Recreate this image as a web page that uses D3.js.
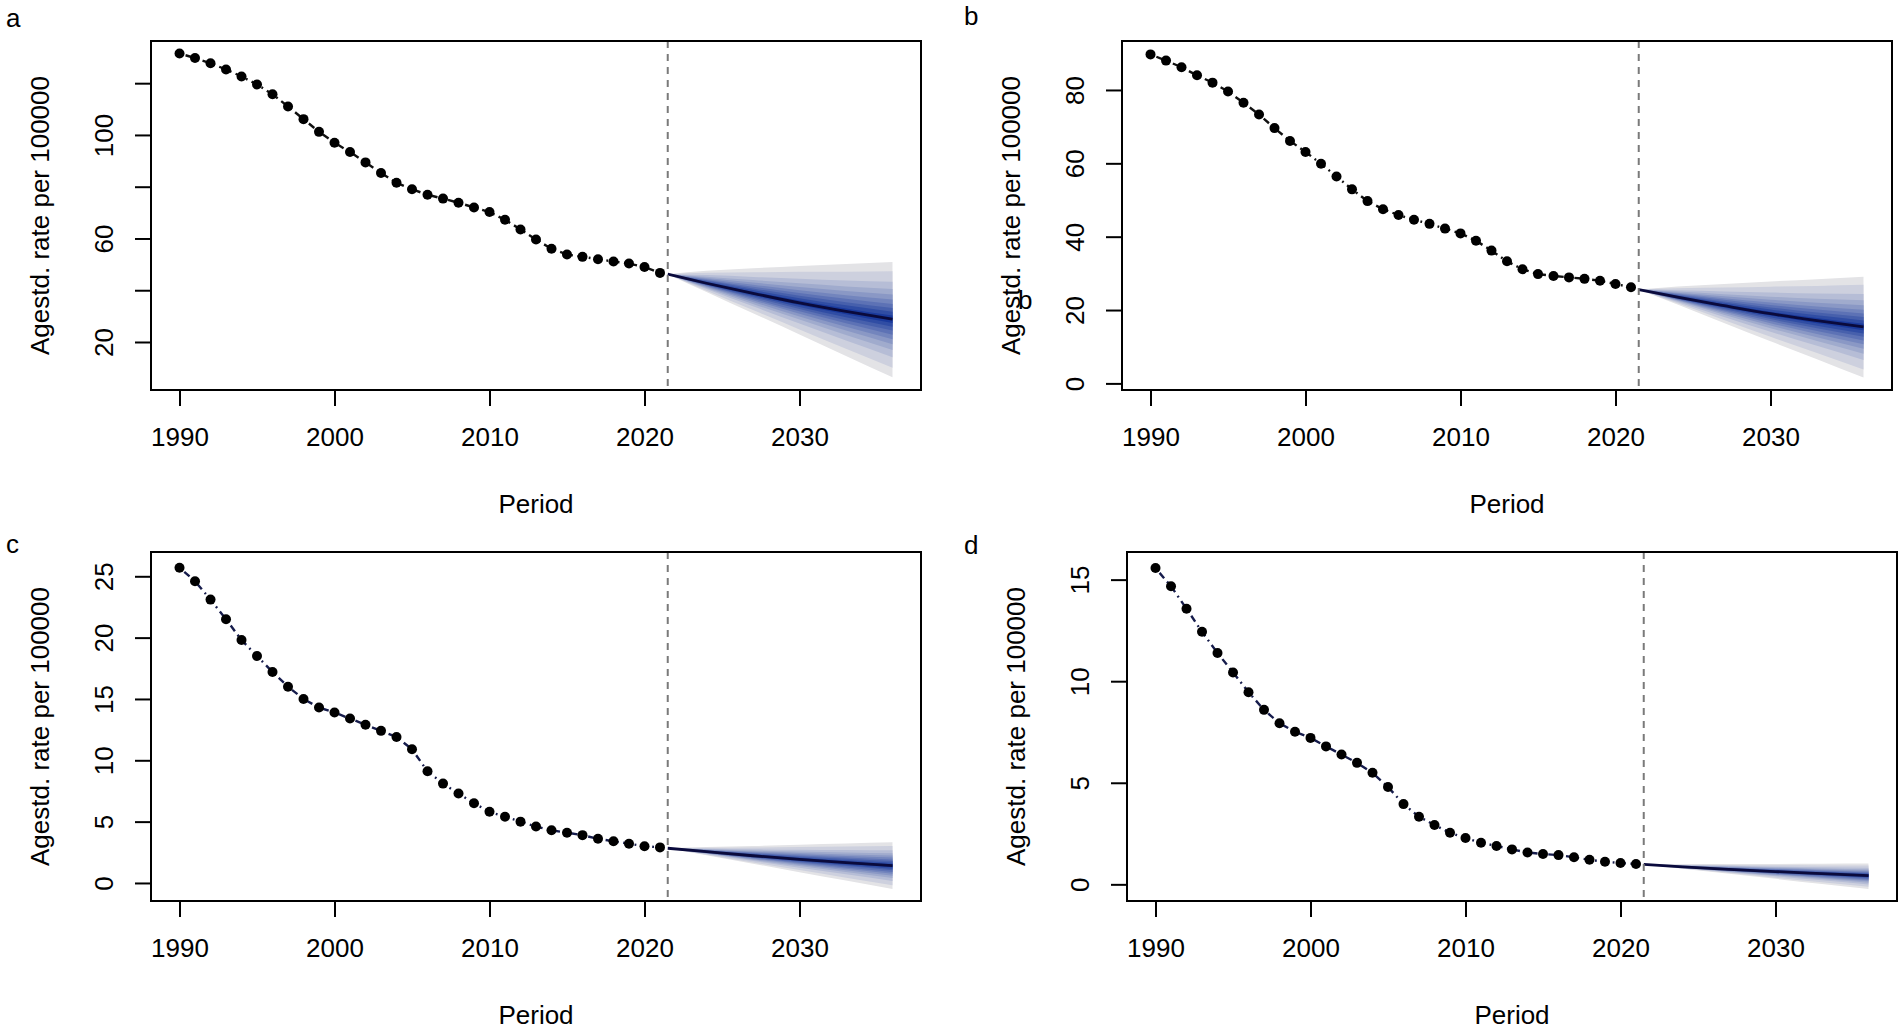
<!DOCTYPE html>
<html>
<head>
<meta charset="utf-8">
<script src="https://cdn.jsdelivr.net/npm/d3@7"></script>
<style>
  body { margin: 0; background: #fff; }
  text { font-family: "Liberation Sans", Arial, sans-serif; fill: #000; }
</style>
</head>
<body>
<svg id="chart" width="1902" height="1030"></svg>
<script>
// observed years and age-standardised rates per panel
const obsYears = [1990, 1991, 1992, 1993, 1994, 1995, 1996, 1997, 1998, 1999,
  2000, 2001, 2002, 2003, 2004, 2005, 2006, 2007, 2008, 2009,
  2010, 2011, 2012, 2013, 2014, 2015, 2016, 2017, 2018, 2019, 2020, 2021];

const rateA = [131.5, 129.7, 127.7, 125.3, 122.6, 119.5, 115.7, 111.0, 106.1, 101.2,
  97.0, 93.4, 89.4, 85.3, 81.5, 79.0, 76.9, 75.4, 73.8, 72.0,
  70.2, 67.2, 63.5, 59.6, 56.0, 53.8, 52.9, 52.0, 51.1, 50.3, 49.0, 46.7];
const rateB = [89.7, 88.0, 86.2, 84.0, 82.0, 79.6, 76.5, 73.3, 69.6, 66.1,
  63.1, 59.9, 56.4, 52.9, 49.7, 47.5, 45.9, 44.6, 43.5, 42.2,
  40.9, 38.9, 36.2, 33.3, 31.1, 29.8, 29.3, 28.9, 28.5, 28.0, 27.1, 26.2];
const rateC = [25.7, 24.6, 23.1, 21.5, 19.8, 18.5, 17.2, 16.0, 15.0, 14.3,
  13.9, 13.4, 12.9, 12.4, 11.9, 10.9, 9.1, 8.1, 7.3, 6.5,
  5.8, 5.4, 5.0, 4.6, 4.3, 4.1, 3.9, 3.6, 3.4, 3.2, 3.0, 2.9];
const rateD = [15.57, 14.67, 13.57, 12.43, 11.39, 10.43, 9.46, 8.59, 7.93, 7.51,
  7.21, 6.79, 6.39, 5.98, 5.49, 4.79, 3.95, 3.33, 2.92, 2.54,
  2.28, 2.05, 1.89, 1.72, 1.57, 1.49, 1.44, 1.33, 1.21, 1.11, 1.05, 1.00];

// projection: median and outer interval bounds
const projYears = [2021.5, 2024, 2027, 2030, 2033, 2036];
const medianA = [46.2, 42.7, 38.8, 35.1, 31.8, 28.8];
const upperA  = [46.2, 47.5, 48.5, 49.4, 50.1, 50.9];
const lowerA  = [46.2, 39.3, 31.1, 22.9, 14.6, 6.4];
const medianB = [25.6, 23.5, 21.2, 19.0, 17.1, 15.4];
const upperB  = [25.6, 26.4, 27.1, 27.8, 28.4, 29.1];
const lowerB  = [25.6, 21.5, 16.5, 11.5, 6.6, 1.6];
const medianC = [2.83, 2.55, 2.22, 1.93, 1.66, 1.41];
const upperC  = [2.83, 2.93, 3.02, 3.12, 3.22, 3.32];
const lowerC  = [2.83, 2.26, 1.57, 0.88, 0.20, -0.49];
const medianD = [0.98, 0.86, 0.74, 0.63, 0.53, 0.43];
const upperD  = [0.98, 0.99, 1.00, 1.00, 1.01, 1.02];
const lowerD  = [0.98, 0.77, 0.52, 0.27, 0.02, -0.23];

// axes
const xTicks = [1990, 2000, 2010, 2020, 2030];
const xLim = [1988.16, 2037.84];
const splitYear = 2021.5;
const yTicksA = [20, 40, 60, 80, 100, 120], yLabelsA = [20, 60, 100];
const yTicksB = [0, 20, 40, 60, 80], yLabelsB = yTicksB;
const yTicksC = [0, 5, 10, 15, 20, 25], yLabelsC = yTicksC;
const yTicksD = [0, 5, 10, 15], yLabelsD = yTicksD;
const yLimA = [1.45, 136.3], yLimB = [-1.8, 93.35], yLimC = [-1.47, 26.98], yLimD = [-0.82, 16.36];

// fan band levels (fraction of the outer interval), inner -> outer
const fanLevels = [0.064, 0.129, 0.196, 0.267, 0.344, 0.43, 0.529, 0.654, 0.839, 1];

const panels = [
  {letter: 'a', box: [151, 921, 41, 390], lab: [6, 27], rate: rateA, med: medianA, up: upperA, lo: lowerA,
   yLim: yLimA, yTicks: yTicksA, yLabels: yLabelsA, lineCol: '#111'},
  {letter: 'b', box: [1122, 1892, 41, 390], lab: [964, 25], rate: rateB, med: medianB, up: upperB, lo: lowerB,
   yLim: yLimB, yTicks: yTicksB, yLabels: yLabelsB, lineCol: '#111'},
  {letter: 'c', box: [151, 921, 552, 901], lab: [6, 553], rate: rateC, med: medianC, up: upperC, lo: lowerC,
   yLim: yLimC, yTicks: yTicksC, yLabels: yLabelsC, lineCol: '#161c4c'},
  {letter: 'd', box: [1127, 1897, 552, 901], lab: [964, 554], rate: rateD, med: medianD, up: upperD, lo: lowerD,
   yLim: yLimD, yTicks: yTicksD, yLabels: yLabelsD, lineCol: '#161c4c'},
];

const svg = d3.select('#chart');
const fontSize = 26;
const fanColour = i => d3.interpolateRgb('#1a3a9c', '#e3e3e6')(i / (fanLevels.length - 1));

panels.forEach(p => {
  const [left, right, top, bottom] = p.box;
  const x = d3.scaleLinear().domain(xLim).range([left, right]);
  const y = d3.scaleLinear().domain(p.yLim).range([bottom, top]);
  const g = svg.append('g');

  // fan: outer bands first
  for (let k = fanLevels.length - 1; k >= 0; k--) {
    const f = fanLevels[k];
    const area = d3.area()
      .x((d, i) => x(projYears[i]))
      .y0((d, i) => y(p.med[i] - (p.med[i] - p.lo[i]) * f))
      .y1((d, i) => y(p.med[i] + (p.up[i] - p.med[i]) * f))
      .curve(d3.curveMonotoneX);
    g.append('path').attr('d', area(projYears)).attr('fill', fanColour(k));
  }
  g.append('path')
    .attr('d', d3.line().x((d, i) => x(projYears[i])).y(d => y(d)).curve(d3.curveMonotoneX)(p.med))
    .attr('fill', 'none').attr('stroke', '#0a0a3c').attr('stroke-width', 2.8);

  // observed series
  g.append('path')
    .attr('d', d3.line().x((d, i) => x(obsYears[i])).y(d => y(d))(p.rate))
    .attr('fill', 'none').attr('stroke', p.lineCol).attr('stroke-width', 2.4)
    .attr('stroke-dasharray', '1.8,4.5,7,4.5');
  g.selectAll('circle.pt').data(p.rate).join('circle')
    .attr('cx', (d, i) => x(obsYears[i])).attr('cy', d => y(d)).attr('r', 5).attr('fill', '#000');

  // split line
  g.append('line')
    .attr('x1', x(splitYear)).attr('x2', x(splitYear)).attr('y1', top).attr('y2', bottom)
    .attr('stroke', '#7a7a7a').attr('stroke-width', 2).attr('stroke-dasharray', '7,6');

  // axes
  const xAxis = g.append('g').attr('transform', `translate(0,${bottom})`)
    .call(d3.axisBottom(x).tickValues(xTicks).tickFormat(d3.format('d')).tickSize(16).tickPadding(21.5));
  const yAxis = g.append('g').attr('transform', `translate(${left},0)`)
    .call(d3.axisLeft(y).tickValues(p.yTicks).tickSize(16)
      .tickFormat(d => p.yLabels.includes(d) ? String(d) : ''));
  [xAxis, yAxis].forEach(a => {
    a.select('.domain').remove();
    a.selectAll('line').attr('stroke', '#000').attr('stroke-width', 2);
    a.selectAll('text').attr('font-size', fontSize).attr('font-family', null);
  });
  yAxis.selectAll('text')
    .attr('x', 0).attr('y', 0).attr('dy', 0)
    .attr('text-anchor', 'middle')
    .attr('transform', 'translate(-38,0) rotate(-90)');

  // box
  g.append('rect').attr('x', left).attr('y', top).attr('width', right - left).attr('height', bottom - top)
    .attr('fill', 'none').attr('stroke', '#000').attr('stroke-width', 2);

  // titles
  g.append('text').attr('x', (left + right) / 2).attr('y', bottom + 123)
    .attr('text-anchor', 'middle').attr('font-size', fontSize).text('Period');
  g.append('text')
    .attr('transform', `translate(${left - 102},${(top + bottom) / 2}) rotate(-90)`)
    .attr('text-anchor', 'middle').attr('font-size', fontSize).text('Agestd. rate per 100000');
  g.append('text').attr('x', p.lab[0]).attr('y', p.lab[1]).attr('font-size', fontSize).text(p.letter);
});

// stray panel letter overlapping the y title in panel b
svg.append('text').attr('x', 1018).attr('y', 309).attr('font-size', fontSize).text('b');
</script>
</body>
</html>
